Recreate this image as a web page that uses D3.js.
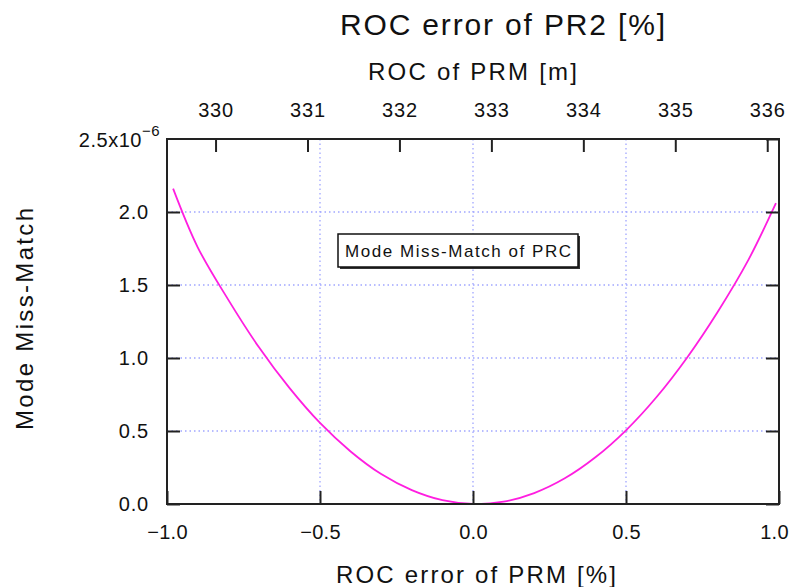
<!DOCTYPE html>
<html><head><meta charset="utf-8">
<script src="https://cdn.jsdelivr.net/npm/d3@7"></script>
<style>
body{margin:0;background:#fff;}
text{font-family:"Liberation Sans",Arial,sans-serif;fill:#111;}
</style></head>
<body><svg id="c" width="792" height="587"></svg>
<script>
// ---- data ----
const errPct = [-0.98,-0.9,-0.8,-0.7,-0.6,-0.5,-0.4,-0.3,-0.2,-0.1,0.0,0.1,0.2,0.3,0.4,0.5,0.6,0.7,0.8,0.9,0.99];
const mismatch = [2.16,1.76,1.40,1.075,0.795,0.555,0.36,0.205,0.095,0.026,0.0,0.016,0.075,0.176,0.32,0.505,0.733,1.004,1.317,1.672,2.06]; // x1e-6
const bottomTicks = [-1.0,-0.5,0.0,0.5,1.0];
const leftTicks = [0.0,0.5,1.0,1.5,2.0];
const topTicks = [330,331,332,333,334,335,336];
const roc0 = 332.8; // nominal ROC of PRM [m]
const titleText = "ROC error of PR2 [%]";
const topLabel = "ROC of PRM [m]";
const bottomLabel = "ROC error of PRM [%]";
const leftLabel = "Mode Miss-Match";
const legendText = "Mode Miss-Match of PRC";

const svg = d3.select("#c");
const L=167,R=779,T=139,B=504;
const x = d3.scaleLinear().domain([-1,1]).range([L,R]);
const y = d3.scaleLinear().domain([0,2.5]).range([B,T]);
const xTop = d3.scaleLinear().domain([roc0*0.99, roc0*1.01]).range([L,R]);
const fmt = d3.format(".1f");

// grid
const gridColor="#a0a6ff";
svg.append("g").selectAll("line").data(bottomTicks.filter(d=>d>-1&&d<1)).join("line")
  .attr("x1",d=>x(d)).attr("x2",d=>x(d)).attr("y1",T).attr("y2",B)
  .attr("stroke",gridColor).attr("stroke-width",1.3).attr("stroke-dasharray","1.5,3");
svg.append("g").selectAll("line").data(leftTicks.filter(d=>d>0)).join("line")
  .attr("x1",L).attr("x2",R).attr("y1",d=>y(d)).attr("y2",d=>y(d))
  .attr("stroke",gridColor).attr("stroke-width",1.3).attr("stroke-dasharray","1.5,3");

// curve
const line = d3.line().x((d,i)=>x(errPct[i])).y(d=>y(d)).curve(d3.curveCatmullRom);
svg.append("path").datum(mismatch).attr("d",line).attr("fill","none")
  .attr("stroke","#ff1ee0").attr("stroke-width",1.8);

// axes
function styleAxis(g){
  g.select(".domain").remove();
  g.selectAll(".tick line").attr("stroke","#222").attr("stroke-width",2);
  g.selectAll(".tick text").style("font-size","20px").style("letter-spacing","0.8px").attr("fill","#111");
}
const tl = 13;
const gb = svg.append("g").attr("transform",`translate(0,${B})`)
  .call(d3.axisBottom(x).tickValues(bottomTicks).tickFormat(fmt).tickSizeInner(-tl).tickPadding(tl+8))
  .call(styleAxis);
gb.selectAll(".tick text").style("letter-spacing","0.3px").attr("dx",d=>d===1?-5:0);
svg.append("g").attr("transform",`translate(${L},0)`)
  .call(d3.axisLeft(y).tickValues(leftTicks).tickFormat(fmt).tickSizeInner(-tl).tickPadding(tl+5))
  .call(styleAxis);
svg.append("g").attr("transform",`translate(${R},0)`)
  .call(d3.axisRight(y).tickValues(leftTicks.concat([2.5])).tickFormat("").tickSizeInner(-tl))
  .call(styleAxis);
svg.append("g").attr("transform",`translate(0,${T})`)
  .call(d3.axisTop(xTop).tickValues(topTicks).tickFormat(d3.format("d")).tickSizeInner(-tl).tickPadding(tl+9))
  .call(styleAxis);

// frame
svg.append("rect").attr("x",L).attr("y",T).attr("width",R-L).attr("height",B-T)
  .attr("fill","none").attr("stroke","#222").attr("stroke-width",2);

// 2.5x10^-6 label
const t25 = svg.append("text").attr("x",L-7).attr("y",y(2.5)+8).attr("text-anchor","end").style("font-size","20px").style("letter-spacing","0.5px");
t25.append("tspan").text("2.5x10");
t25.append("tspan").attr("dy",-11).style("font-size","15px").text("−6");

// titles
svg.append("text").attr("x",502.5).attr("y",35).attr("text-anchor","middle").style("font-size","30px")
  .attr("textLength",325).attr("lengthAdjust","spacing").text(titleText);
svg.append("text").attr("x",472.5).attr("y",80).attr("text-anchor","middle").style("font-size","24px")
  .attr("textLength",209).attr("lengthAdjust","spacing").text(topLabel);
svg.append("text").attr("x",476).attr("y",583).attr("text-anchor","middle").style("font-size","24px")
  .attr("textLength",280).attr("lengthAdjust","spacing").text(bottomLabel);
svg.append("text").attr("transform","translate(33,319) rotate(-90)").attr("text-anchor","middle").style("font-size","24px")
  .attr("textLength",222).attr("lengthAdjust","spacing").text(leftLabel);

// legend
const lg = svg.append("g");
lg.append("rect").attr("x",340).attr("y",236).attr("width",240).attr("height",33).attr("fill","#333");
lg.append("rect").attr("x",338).attr("y",234).attr("width",240).attr("height",33).attr("fill","#fff").attr("stroke","#111").attr("stroke-width",1.5);
lg.append("text").attr("x",458).attr("y",257).attr("text-anchor","middle").style("font-size","17px")
  .attr("textLength",226).attr("lengthAdjust","spacing").text(legendText);
</script></body></html>
